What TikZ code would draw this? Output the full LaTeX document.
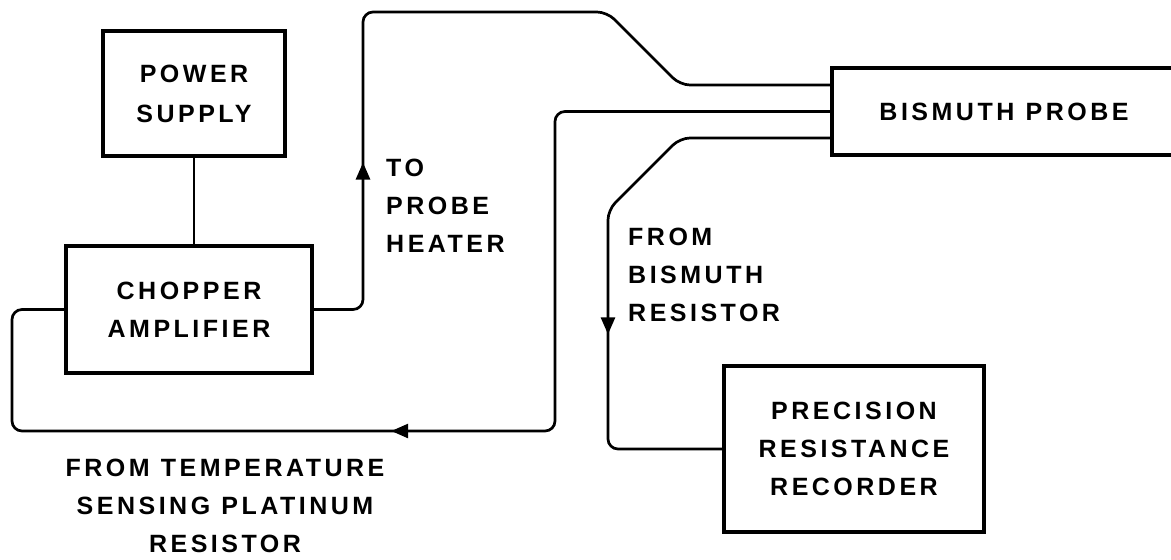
\documentclass[tikz,border=0pt]{standalone}
\usepackage{fontspec}
\setmainfont{Liberation Sans}[LetterSpace=14]
\usepackage{tikz}
\usetikzlibrary{arrows.meta,decorations.markings}

\tikzset{
  box/.style={draw, line width=3.4pt, align=center, inner sep=0pt},
  wire/.style={line width=2.7pt, rounded corners=10pt},
  lbl/.style={align=left, inner sep=0pt, anchor=north west},
  arrowat/.style={postaction={decorate}, decoration={markings,
      mark=at position #1 with {\arrow{Triangle[length=17pt,width=14pt]}}}},
}
\newcommand{\wsp}{\hspace{0.45em}}

\begin{document}
\begin{tikzpicture}[x=1pt, y=-1pt, font=\fontsize{25}{38}\selectfont\bfseries]
    \useasboundingbox (0,0) rectangle (1171,560);
    \clip (0,0) rectangle (1171,560);

    % boxes
    \node[box, minimum width=182pt, minimum height=125pt] (pwr) at (194,93.5) {POWER\\[2pt]SUPPLY};
    \node[box, minimum width=246pt, minimum height=127pt] (chop) at (189,309.5) {CHOPPER\\AMPLIFIER};
    \node[box, minimum width=344pt, minimum height=87pt] (probe) at (1004,111.5) {BISMUTH\wsp PROBE};
    \node[box, minimum width=260pt, minimum height=166pt] (prec) at (854,449) {PRECISION\\RESISTANCE\\RECORDER};

    % labels
    \node[lbl] (heat) at (386,159) {\fontsize{25}{31.5}\selectfont TO\\PROBE\\HEATER};
    \node[lbl] (bires) at (628,228) {\fontsize{25}{33}\selectfont FROM\\BISMUTH\\RESISTOR};
    \node[lbl, align=center, anchor=north] (ptres) at (225,459) {\fontsize{25}{38.5}\selectfont FROM\wsp TEMPERATURE\\SENSING\wsp PLATINUM\\RESISTOR};

    % wires
    \draw[line width=2.7pt] (pwr.south) -- (pwr.south |- chop.north);
    \draw[wire, arrowat=192pt] (chop.east) -- (363,309.5) -- (363,12) -- (607,12) -- (680,85) -- ([yshift=26.5pt]probe.west);
    \draw[wire, arrowat=750pt] (probe.west) -- (555,111.5) -- (555,431) -- (12,431) -- (12,309.5) -- (chop.west);
    \draw[wire, arrowat=374pt] ([yshift=-26.5pt]probe.west) -- (680,138) -- (608,210) -- (608,449) -- (prec.west);
\end{tikzpicture}
\end{document}
